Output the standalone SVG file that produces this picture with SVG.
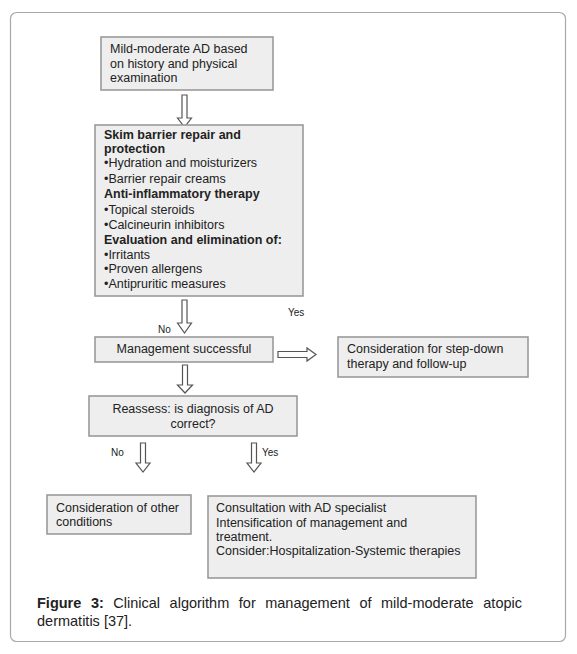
<svg xmlns="http://www.w3.org/2000/svg" width="577" height="654" viewBox="0 0 577 654">
<style>
.box{fill:#eeeeee;stroke:#9a9a9a;stroke-width:1.6}
.t{font-family:"Liberation Sans",Arial,sans-serif;font-size:12.5px;fill:#222}
.b{font-weight:bold}
.arr{fill:#ffffff;stroke:#555;stroke-width:1.2;stroke-linejoin:miter}
.lbl{font-family:"Liberation Sans",Arial,sans-serif;font-size:10px;fill:#222}
.cap{font-family:"Liberation Sans",Arial,sans-serif;font-size:14.5px;fill:#222}
</style>
<rect x="10.5" y="12.5" width="555" height="629" rx="6" fill="#ffffff" stroke="#a8a8a8" stroke-width="1.2"/>
<g id="connectors">
<path class="arr" d="M182,95 H187 V118 H191.5 L184.5,127 L177.5,118 H182 Z"/>
<path class="arr" d="M182,300 H187 V323 H191.5 L184.5,333 L177.5,323 H182 Z"/>
<path class="arr" d="M182.5,365 H187.5 V385 H192.5 L185,393 L177.5,385 H182.5 Z"/>
<path class="arr" d="M140.5,443 H145.5 V463 H150 L143,472 L136,463 H140.5 Z"/>
<path class="arr" d="M251.5,443 H256.5 V463 H261 L254,472 L247,463 H251.5 Z"/>
<path class="arr" d="M278,351.5 H307 V348 L316,354.5 L307,361 V357.5 H278 Z"/>
<text class="lbl" x="158" y="333">No</text>
<text class="lbl" x="288" y="316">Yes</text>
<text class="lbl" x="111" y="456">No</text>
<text class="lbl" x="262" y="456">Yes</text>
</g>
<g id="n1">
<rect class="box" x="101" y="37" width="172" height="53"/>
<text class="t" x="110" y="53">Mild-moderate AD based</text>
<text class="t" x="110" y="68">on history and physical</text>
<text class="t" x="110" y="82">examination</text>
</g>
<g id="n2">
<rect class="box" x="95" y="125" width="208" height="171"/>
<text class="t b" x="104" y="139">Skim barrier repair and</text>
<text class="t b" x="104" y="153">protection</text>
<text class="t" x="104" y="167">•Hydration and moisturizers</text>
<text class="t" x="104" y="183">•Barrier repair creams</text>
<text class="t b" x="104" y="198">Anti-inflammatory therapy</text>
<text class="t" x="104" y="214">•Topical steroids</text>
<text class="t" x="104" y="229">•Calcineurin inhibitors</text>
<text class="t b" x="104" y="244">Evaluation and elimination of:</text>
<text class="t" x="104" y="259">•Irritants</text>
<text class="t" x="104" y="273">•Proven allergens</text>
<text class="t" x="104" y="288">•Antipruritic measures</text>
</g>
<g id="n3">
<rect class="box" x="95" y="337" width="178" height="25"/>
<text class="t" x="184" y="353" text-anchor="middle">Management successful</text>
</g>
<g id="n4">
<rect class="box" x="338" y="337" width="190" height="40"/>
<text class="t" x="347" y="353">Consideration for step-down</text>
<text class="t" x="347" y="368">therapy and follow-up</text>
</g>
<g id="n5">
<rect class="box" x="89" y="396" width="208" height="40"/>
<text class="t" x="193" y="413" text-anchor="middle">Reassess: is diagnosis of AD</text>
<text class="t" x="193" y="428" text-anchor="middle">correct?</text>
</g>
<g id="n6">
<rect class="box" x="47" y="495" width="144" height="39"/>
<text class="t" x="56" y="512">Consideration of other</text>
<text class="t" x="56" y="526">conditions</text>
</g>
<g id="n7">
<rect class="box" x="208" y="496" width="268" height="82"/>
<text class="t" x="216" y="512">Consultation with AD specialist</text>
<text class="t" x="216" y="527">Intensification of management and</text>
<text class="t" x="216" y="541">treatment.</text>
<text class="t" x="216" y="555">Consider:Hospitalization-Systemic therapies</text>
</g>
<g id="caption">
<text class="cap" y="608"><tspan x="37" font-weight="bold">Figure</tspan><tspan x="91" font-weight="bold">3:</tspan><tspan x="113.3">Clinical</tspan><tspan x="169.6">algorithm</tspan><tspan x="238.8">for</tspan><tspan x="265.2">management</tspan><tspan x="359.4">of</tspan><tspan x="381">mild-moderate</tspan><tspan x="483.3">atopic</tspan></text>
<text class="cap" x="37" y="626">dermatitis [37].</text>
</g>
</svg>
